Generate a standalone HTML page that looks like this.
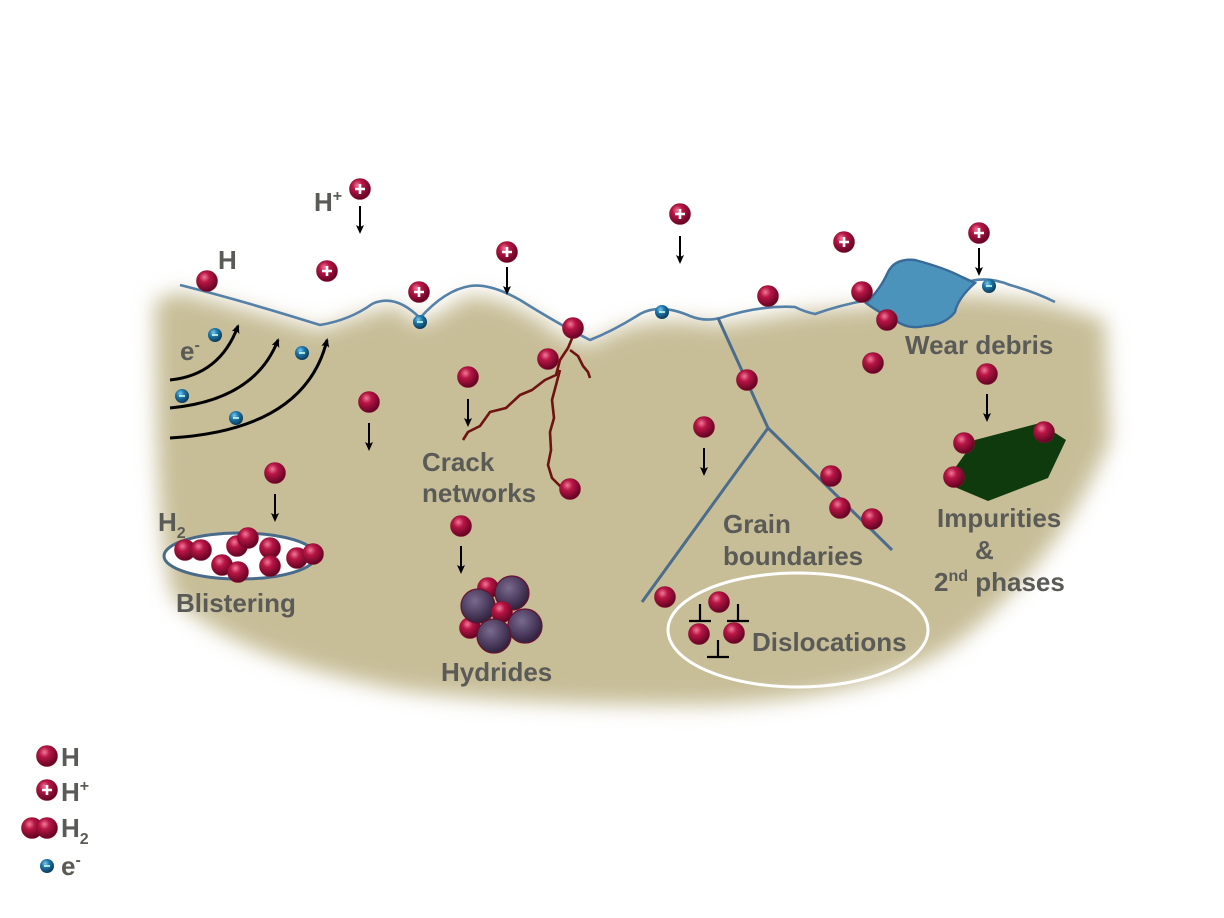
<!DOCTYPE html>
<html><head><meta charset="utf-8"><style>
html,body{margin:0;padding:0;background:#fff;width:1224px;height:918px;overflow:hidden}
text{font-family:"Liberation Sans",Arial,sans-serif;font-weight:bold;fill:#5a5a56}
</style></head><body>
<svg width="1224" height="918" viewBox="0 0 1224 918" xmlns="http://www.w3.org/2000/svg">
<defs>
<radialGradient id="r" cx="38%" cy="32%" r="70%"><stop offset="0" stop-color="#f07a98"/><stop offset="0.35" stop-color="#b81545"/><stop offset="1" stop-color="#5e0322"/></radialGradient>
<radialGradient id="b" cx="38%" cy="32%" r="70%"><stop offset="0" stop-color="#7cc8ee"/><stop offset="0.4" stop-color="#1f78a8"/><stop offset="1" stop-color="#0a3858"/></radialGradient>
<radialGradient id="p" cx="40%" cy="35%" r="70%"><stop offset="0" stop-color="#7a6a8e"/><stop offset="0.6" stop-color="#4a3a5c"/><stop offset="1" stop-color="#2a1e36"/></radialGradient>
<filter id="bl" x="-10%" y="-10%" width="120%" height="120%"><feGaussianBlur stdDeviation="10"/></filter>
<marker id="ah" markerWidth="10" markerHeight="10" refX="7" refY="4" orient="auto" markerUnits="userSpaceOnUse"><path d="M0,0 L9,4 L0,8 L2,4 Z" fill="#000"/></marker>
<g id="H"><circle r="10.5" fill="url(#r)" stroke="#8a1030" stroke-width="0.6"/></g>
<g id="Hp"><circle r="10.5" fill="url(#r)" stroke="#8a1030" stroke-width="0.6"/><path d="M-5,0 H5 M0,-5 V5" stroke="#fff" stroke-width="2.6"/></g>
<g id="E"><circle r="7" fill="url(#b)"/><path d="M-3,0 H3" stroke="#cfe" stroke-width="1.6"/></g>
</defs>

<path filter="url(#bl)" fill="#c7be98" d="M180,292 Q250,310 320,330 Q360,315 395,305 L420,325 L470,295 Q520,300 560,335 L590,345 Q640,310 720,325 L800,312 L880,305 Q940,285 1055,305 L1105,320 L1110,440 Q1060,560 960,640 Q880,700 700,705 Q500,705 400,690 Q240,660 175,600 Q155,560 155,300 Z"/>

<path d="M180,285 Q240,300 320,325 Q350,320 372,304 Q395,293 420,318 Q445,290 470,286 Q490,283 520,300 Q560,325 590,340 Q615,330 640,314 Q660,303 690,316 Q705,322 720,318 Q760,305 795,307 Q805,312 815,314 Q840,305 868,300" fill="none" stroke="#5580a8" stroke-width="2.6"/>
<path d="M965,283 Q985,275 1010,285 Q1035,292 1055,302" fill="none" stroke="#5580a8" stroke-width="2.6"/>
<path d="M866,303 Q880,290 888,272 Q895,258 915,260 Q945,268 962,277 L975,283 Q958,298 955,312 Q945,325 925,326 Q908,330 895,320 Q878,312 866,303 Z" fill="#4b93bb" stroke="#3a6a98" stroke-width="2.4"/>

<g stroke="#4c6c8c" stroke-width="3" fill="none">
<path d="M718,318 L768,428 L642,602"/><path d="M768,428 L892,550"/>
</g>

<g stroke="#6e1212" stroke-width="2.6" fill="none" stroke-linejoin="round">
<path d="M573,336 L568,348 L560,360 L556,375 L545,380 L532,390 L520,395 L506,408 L490,412 L480,426 L468,432 L463,440"/>
<path d="M570,350 L578,356 L583,366 L588,372 L590,378"/>
<path d="M560,370 L556,385 L552,400 L554,418 L550,432 L551,450 L548,465 L552,478 L562,488"/>
</g>

<g stroke="#000" stroke-width="3" fill="none">
<path d="M170,380 Q220,375 238,326" marker-end="url(#ah)"/>
<path d="M170,408 Q255,400 278,340" marker-end="url(#ah)"/>
<path d="M170,438 Q305,430 327,340" marker-end="url(#ah)"/>
</g>

<g stroke="#000" stroke-width="2" marker-end="url(#ah)">
<path d="M360,206 V232"/><path d="M507,267 V293"/><path d="M680,236 V262"/><path d="M979,248 V274"/>
<path d="M369,423 V449"/><path d="M468,399 V425"/><path d="M275,494 V520"/><path d="M461,546 V572"/>
<path d="M704,448 V474"/><path d="M987,394 V420"/>
</g>

<polygon points="955,468 975,440 1040,423 1066,440 1048,478 988,501 950,485" fill="#0e3a0e"/>

<ellipse cx="240" cy="556" rx="76" ry="23" fill="#fff" stroke="#4a6a8a" stroke-width="3"/>

<ellipse cx="798" cy="630" rx="130" ry="57" fill="none" stroke="#fff" stroke-width="3"/>
<g stroke="#000" stroke-width="2.2">
<path d="M689,621 H711 M700,621 V604"/><path d="M727,621 H749 M738,621 V604"/><path d="M707,657 H729 M718,657 V640"/>
</g>

<use href="#H" x="488" y="588"/><use href="#H" x="470" y="628"/>
<circle cx="478" cy="606" r="17" fill="url(#p)" stroke="#6a1030" stroke-width="1.2"/>
<circle cx="512" cy="593" r="17" fill="url(#p)" stroke="#6a1030" stroke-width="1.2"/>
<use href="#H" x="502" y="612"/>
<circle cx="525" cy="626" r="17" fill="url(#p)" stroke="#6a1030" stroke-width="1.2"/>
<circle cx="494" cy="636" r="17" fill="url(#p)" stroke="#6a1030" stroke-width="1.2"/>

<g>
<use href="#H" x="207" y="281"/><use href="#H" x="768" y="296"/><use href="#H" x="862" y="292"/><use href="#H" x="887" y="320"/>
<use href="#H" x="873" y="363"/><use href="#H" x="987" y="374"/><use href="#H" x="573" y="328"/><use href="#H" x="548" y="359"/>
<use href="#H" x="468" y="377"/><use href="#H" x="369" y="402"/><use href="#H" x="275" y="473"/><use href="#H" x="570" y="489"/>
<use href="#H" x="461" y="526"/><use href="#H" x="704" y="427"/><use href="#H" x="747" y="380"/><use href="#H" x="831" y="476"/>
<use href="#H" x="840" y="508"/><use href="#H" x="872" y="519"/><use href="#H" x="665" y="597"/><use href="#H" x="1044" y="432"/>
<use href="#H" x="964" y="443"/><use href="#H" x="954" y="477"/><use href="#H" x="719" y="602"/><use href="#H" x="699" y="634"/><use href="#H" x="734" y="633"/>
<use href="#H" x="185" y="550"/><use href="#H" x="201" y="550"/><use href="#H" x="237" y="546"/><use href="#H" x="248" y="538"/>
<use href="#H" x="222" y="565"/><use href="#H" x="238" y="572"/><use href="#H" x="270" y="548"/><use href="#H" x="270" y="566"/>
<use href="#H" x="297" y="558"/><use href="#H" x="313" y="554"/>
</g>
<g>
<use href="#Hp" x="360" y="189"/><use href="#Hp" x="327" y="271"/><use href="#Hp" x="419" y="292"/><use href="#Hp" x="507" y="252"/>
<use href="#Hp" x="680" y="214"/><use href="#Hp" x="844" y="242"/><use href="#Hp" x="979" y="233"/>
</g>
<g>
<use href="#E" x="215" y="335"/><use href="#E" x="302" y="353"/><use href="#E" x="182" y="396"/><use href="#E" x="236" y="418"/>
<use href="#E" x="420" y="322"/><use href="#E" x="662" y="312"/><use href="#E" x="989" y="286"/>
</g>

<g font-size="26">
<text x="314" y="211">H<tspan font-size="16" dy="-10">+</tspan></text>
<text x="218" y="269">H</text>
<text x="180" y="360">e<tspan font-size="16" dy="-10">-</tspan></text>
<text x="905" y="354">Wear debris</text>
<text x="422" y="471">Crack</text><text x="422" y="502">networks</text>
<text x="723" y="533">Grain</text><text x="723" y="565">boundaries</text>
<text x="937" y="527">Impurities</text>
<text x="975" y="559">&amp;</text>
<text x="934" y="591">2<tspan font-size="16" dy="-10">nd</tspan><tspan dy="10"> phases</tspan></text>
<text x="752" y="651">Dislocations</text>
<text x="441" y="681">Hydrides</text>
<text x="176" y="612">Blistering</text>
<text x="158" y="531">H<tspan font-size="16" dy="7">2</tspan></text>
</g>

<use href="#H" x="47" y="756"/><use href="#Hp" x="47" y="790"/>
<use href="#H" x="32" y="828"/><use href="#H" x="47" y="828"/><use href="#E" x="47" y="866"/>
<g font-size="26">
<text x="61" y="766">H</text>
<text x="61" y="801">H<tspan font-size="16" dy="-10">+</tspan></text>
<text x="61" y="837">H<tspan font-size="16" dy="7">2</tspan></text>
<text x="61" y="875">e<tspan font-size="16" dy="-10">-</tspan></text>
</g>
</svg>
</body></html>
